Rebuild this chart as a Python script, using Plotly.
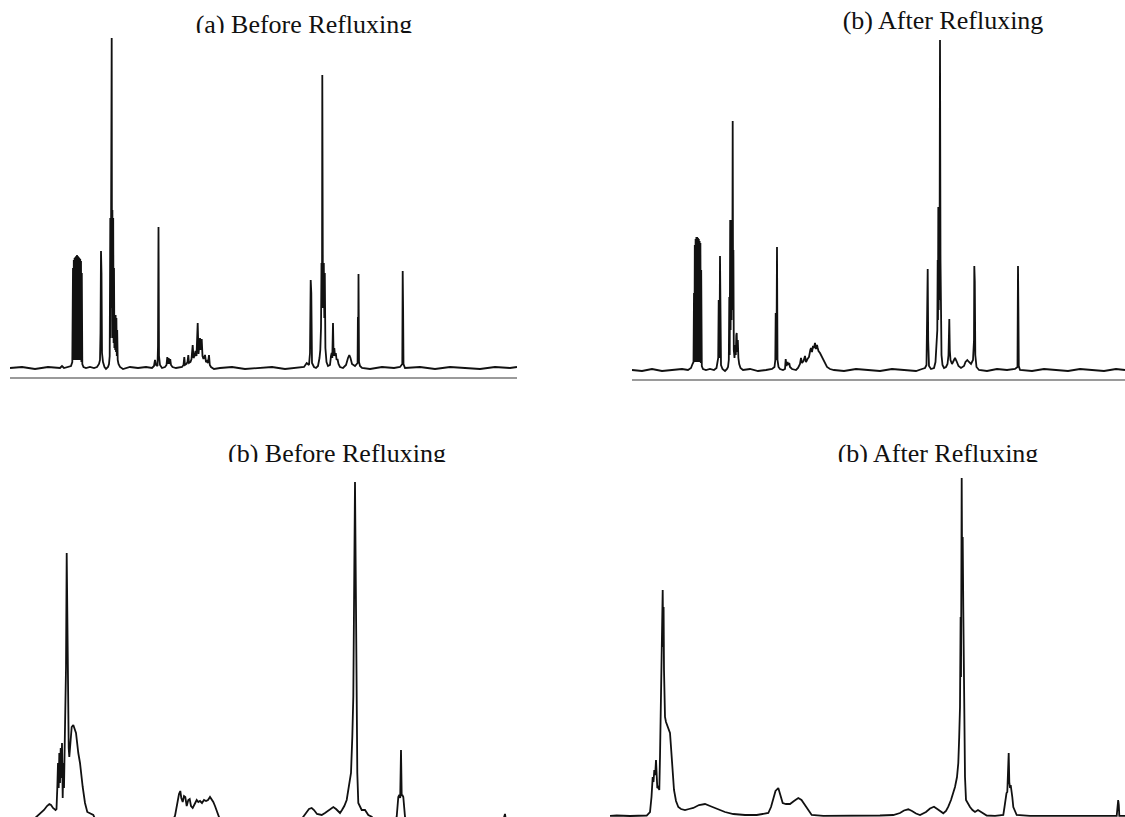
import plotly.graph_objects as go

W, H = 1125, 817

# ---------------- (a) Before Refluxing, top-left spectrum ----------------
A_CH = [0,12,25,38,50,52,54,58,61,62.3,
        63,63.4,63.8,64.2,64.6,65,65.4,65.8,66.2,66.6,67,67.4,67.8,68.2,68.6,69,69.4,69.8,70.2,70.6,71,71.4,71.8,72.3,73.5,
        76,80,84,87,89,90,90.5,91,91.5,92,93,94.5,96,98,
        99,99.7,100.3,100.7,101.1,101.4,101.7,102,102.4,102.8,103.2,103.6,104,104.4,104.8,105.2,105.6,106,106.4,106.8,107.2,107.7,108.5,110,113,
        120,128,136,142,144,145,146,147.5,148,148.5,149,150,152,
        155,156.5,157.3,158,158.7,159.4,160.2,161,162.5,166,170,
        172,173.5,174.3,175,176.5,177.5,178.3,179,180.5,181.5,182.7,183.5,184.5,185.5,186.5,187.7,188.5,189.3,190,190.8,191.7,192.5,193.5,195,196,197,198,199,199.8,201,204,
        210,222,235,250,262,275,288,294,296.7,299,300,300.7,301.3,302,304,306,308,309.5,310.3,311,311.5,312,312.3,312.8,313.3,313.8,314.3,314.8,315.4,316.5,318,
        320,321,321.7,322.3,323,323.6,324.3,325,325.8,326.6,327.5,328.5,330,333,336,338,339.3,340.5,342,345,
        347.6,347.9,348.2,348.5,349,350,352,360,372,384,390,392.3,392.7,393.1,393.5,395,410,425,440,455,470,485,500,507]
A_INT = [0,1,-1,1,0,2,0,1,2,6,
         100,8,108,8,110,8,111,8,112,8,113,8,112,8,111,8,110,8,109,8,107,6,95,4,1,
         0,1,0,1,4,8,35,117,95,15,6,1,-1,1,
         4,12,150,30,158,60,330,60,158,30,150,25,100,20,51,18,53,16,50,12,38,8,4,1,-1,
         1,0,1,0,2,8,3,2,22,141,12,3,0,
         1,3,11,4,10,4,9,3,1,0,1,
         1,3,11,3,4,6,13,5,6,9,23,10,12,17,12,45,14,22,30,18,29,12,9,13,6,7,5,13,3,1,-1,
         0,1,-1,0,1,-1,0,1,5,3,15,88,75,5,1,0,2,10,18,40,105,60,293,105,60,105,50,95,20,6,2,
         3,12,15,10,45,12,20,12,15,8,9,4,1,0,3,10,13,10,4,2,
         5,51,10,94,6,2,0,-1,1,0,1,4,97,60,4,0,1,-1,1,0,-1,1,0,1]

# ---------------- (b) After Refluxing, top-right spectrum ----------------
B_CH = [0,10,20,30,40,50,56,59,60.5,61.5,
        62,62.4,62.8,63.2,63.6,64,64.4,64.8,65.2,65.6,66,66.4,66.8,67.2,67.6,68,68.4,68.8,69.2,69.8,71,
        74,78,82,84.5,85.5,86.2,86.7,87.2,87.6,88,88.4,89,90.5,93,95,
        96,96.8,97.3,97.7,98.2,98.6,99.1,99.5,99.9,100.3,100.7,101.1,101.4,101.8,102.5,103.3,103.8,104.3,104.7,105.2,105.8,106.4,107.2,108.5,111,
        118,126,134,140,142.5,143.3,143.7,144.1,144.6,145,145.5,146.5,148,151,
        153,153.7,154.5,155.5,156.3,157.2,158,160,164,
        166,168,169,170,171.5,173,174,175.5,177,178.3,179,180,181,182,183,184,185,185.7,186.5,188,189.5,191,192,193.5,195,198,202,
        212,224,236,248,260,272,284,290,293,294.5,295.3,295.7,296.2,297,299,
        302,303.5,304.3,304.7,305.3,305.7,306,306.3,306.7,307.1,307.5,308,308.5,309,309.5,310.5,312,
        314,315.5,316.5,317.3,317.8,318.5,320,321.5,323,324.5,326.5,329,332,333.5,335.3,337,339,
        341,342,342.3,342.8,343.3,344.5,347,355,365,375,383,385.5,385.8,386,386.4,386.8,388,
        400,412,424,436,448,460,472,484,493]
B_INT = [0,-1,1,-1,0,1,0,2,6,8,
         77,8,125,8,131,8,133,8,133,8,132,8,131,8,129,8,127,7,100,4,1,
         0,1,0,2,8,12,70,12,30,114,20,5,1,-1,1,
         3,10,73,15,150,40,150,50,150,60,249,60,120,20,12,25,15,35,37,18,30,12,6,2,0,
         1,-1,0,1,3,10,57,10,40,123,10,3,1,0,
         1,11,4,8,5,7,3,1,0,
         2,6,12,7,9,14,8,11,13,20,22,18,24,22,27,21,25,22,19,17,14,12,10,6,3,1,0,
         -1,1,0,-1,1,0,-1,1,2,5,63,101,30,4,1,
         2,8,20,30,40,110,50,163,60,110,70,330,110,40,15,5,2,
         3,6,15,51,20,10,6,9,12,9,4,2,4,8,10,8,6,
         10,30,104,88,15,3,0,-1,1,0,1,3,67,104,60,4,0,
         -1,1,0,-1,1,0,-1,1,0]

# ---------------- (b) Before Refluxing, bottom-left spectrum ----------------
C_CH = [0,30,34,36.7,40,44,47,49.3,51,53,55.5,56.5,
        57.3,58,58.7,59.3,60,60.7,61.3,62,62.7,63.3,64,64.7,65.3,66,66.7,67.3,68,68.7,69.3,70.5,71.7,73.3,76,78.3,80,82.7,85,87.3,93.3,96,
        172,175,177,179,180.3,181.3,182.7,184,185.3,186.7,188.3,189.7,191,192.7,194.7,196.7,198.3,200,202,204,206,208,210,211.7,213.3,215,217,219,222,
        300,303.3,306.7,309,311.7,314,317,321.7,325,328,331,333.3,336,338.3,340,342,344.3,346.7,349,351,352.3,353.3,354.3,355,355.7,356.2,356.7,357.3,358.3,361.7,365,368.3,371.7,375,
        394,396.7,398.3,399.3,400.2,401,401.7,402.3,403.3,405,407,
        503,505,506,520]
C_INT = [-3,-3,-1,1.3,4,8,12,14,13,10,8,9,
         30,55,30,65,35,70,40,75,20,55,30,80,110,150,265,200,120,70,61,80,91,93,85,65,55,31,15,6,3,-3,
         -3,2,14,24,27,20,16,22,21,12,18,19,12,10,14,18,16,17,15,18,17,18,21,19,16,12,6,1,-3,
         -3,1.3,6,9,10,8,4,3,5,7,9,11,9,6,5,8,12,18,31,45,81,121,248,336,248,141,100,45,15,8,8,3,1.3,-3,
         -3,1.3,21,23,20,68,22,23,21,1.3,-3,
         -3,4,-3,-3]

# ---------------- (b) After Refluxing, bottom-right spectrum ----------------
D_CH = [0,6.7,20,36.7,40,41.5,42.7,43.5,44.3,45.2,46,46.7,47.3,48.3,49.3,50,50.7,51.2,51.7,52.2,52.7,53.2,53.6,54,54.5,55,56,57.3,58.7,60,61,61.7,62.8,64,66,68.3,71,75,79,83.3,89,95,100,106.7,115,123.3,135,146.7,
        155,158.3,161,163.3,165.5,168.3,170.5,172.7,176,180,184,188.3,191.5,195,198.5,201.7,213.3,250,270,283.3,290,294,298.3,302,306,310,316,320,324,328,333.3,336,338.3,341,343,345,347,348.3,349.2,350,350.6,351,351.7,352.2,352.7,353.3,353.8,354.3,355,356,358,360,362.5,365,368,371.7,374,376.7,385,
        393.3,394.5,395.7,396.5,397.3,398,398.7,399.3,400,400.7,401.5,402.3,403.3,405,406.7,420,450,480,506.7,507.5,508.2,508.8,509.3,515]
D_INT = [1.2,1.5,1,1.5,5,20,40,35,47,42,57,40,29,30,27,60,110,140,160,200,227,170,210,147,110,100,95,92,88,84,70,60,40,27,16,10,8,7,8,9,12,13,11,8,5,3,2,2,
         3,4,10,19,26,29,22,14,13,13,16,19,17,12,6,2,1.2,1.2,1.5,2,4,6.5,7.7,6,3.5,2,5,8.5,10.3,7.5,3.7,6,10.3,17,24,30,40,54,80,110,200,140,339,230,280,207,140,87,40,17,13,10,7,5,7,5,3,1.5,1.2,
         2,10,19,24,25,40,64,35,29,32,27,20,10,5,2,1.2,1.5,1.2,1.2,8,17,12,1.2,1.2]

TITLES = ["(a) Before Refluxing", "(b) After Refluxing", "(b) Before Refluxing", "(b) After Refluxing"]


def px_x(p):
    return p / W


def px_y(p):
    return 1 - p / H


fig = go.Figure()
line = dict(color="#111111", width=1.8)
fig.add_trace(go.Scatter(x=A_CH, y=A_INT, mode="lines", line=line, xaxis="x", yaxis="y"))
fig.add_trace(go.Scatter(x=B_CH, y=B_INT, mode="lines", line=line, xaxis="x2", yaxis="y2"))
fig.add_trace(go.Scatter(x=C_CH, y=C_INT, mode="lines", line=line, xaxis="x3", yaxis="y3"))
fig.add_trace(go.Scatter(x=D_CH, y=D_INT, mode="lines", line=line, xaxis="x4", yaxis="y4"))

tfont = dict(family="Liberation Serif, Times New Roman, serif", size=26, color="#111111")
# titles as clipped text (scanned page crops the lower part of three captions)
fig.add_trace(go.Scatter(x=[304], y=[26], mode="text", text=[TITLES[0]], textfont=tfont,
                         textposition="middle center", cliponaxis=True, xaxis="x5", yaxis="y5"))
fig.add_trace(go.Scatter(x=[943], y=[22], mode="text", text=[TITLES[1]], textfont=tfont,
                         textposition="middle center", cliponaxis=True, xaxis="x7", yaxis="y7"))
fig.add_trace(go.Scatter(x=[337, 938], y=[455, 455], mode="text", text=[TITLES[2], TITLES[3]], textfont=tfont,
                         textposition="middle center", cliponaxis=True, xaxis="x6", yaxis="y6"))

hidden = dict(visible=False, fixedrange=True)
spec_x = dict(showgrid=False, zeroline=False, showticklabels=False, ticks="", fixedrange=True)

fig.update_layout(
    width=W, height=H, margin=dict(l=0, r=0, t=0, b=0),
    paper_bgcolor="white", plot_bgcolor="rgba(0,0,0,0)", showlegend=False,
    hovermode=False,
    xaxis=dict(domain=[px_x(10), px_x(517)], range=[0, 507], anchor="y",
               showline=True, linecolor="#9a9a9a", linewidth=2, **spec_x),
    yaxis=dict(domain=[px_y(377), px_y(36)], range=[-9, 332], anchor="x", **hidden),
    xaxis2=dict(domain=[px_x(632), px_x(1125)], range=[0, 493], anchor="y2",
                showline=True, linecolor="#9a9a9a", linewidth=2, **spec_x),
    yaxis2=dict(domain=[px_y(378.5), px_y(36)], range=[-8.5, 334], anchor="x2", **hidden),
    xaxis3=dict(domain=[px_x(0), px_x(520)], range=[0, 520], anchor="y3", **hidden),
    yaxis3=dict(domain=[px_y(817), px_y(470)], range=[1, 348], anchor="x3", **hidden),
    xaxis4=dict(domain=[px_x(610), px_x(1125)], range=[0, 515], anchor="y4", **hidden),
    yaxis4=dict(domain=[px_y(817), px_y(470)], range=[0, 347], anchor="x4", **hidden),
    xaxis5=dict(domain=[0, 1], range=[0, W], anchor="y5", **hidden),
    yaxis5=dict(domain=[px_y(33), 1], range=[33, 0], anchor="x5", **hidden),
    xaxis6=dict(domain=[0, 1], range=[0, W], anchor="y6", **hidden),
    yaxis6=dict(domain=[px_y(462), px_y(425)], range=[462, 425], anchor="x6", **hidden),
    xaxis7=dict(domain=[0, 1], range=[0, W], anchor="y7", **hidden),
    yaxis7=dict(domain=[px_y(50), 1], range=[50, 0], anchor="x7", **hidden),
)

fig.write_html(
    "out.html",
    config={"displayModeBar": False, "staticPlot": True},
    post_script="document.body.style.margin='0';document.body.style.overflow='hidden';",
)
